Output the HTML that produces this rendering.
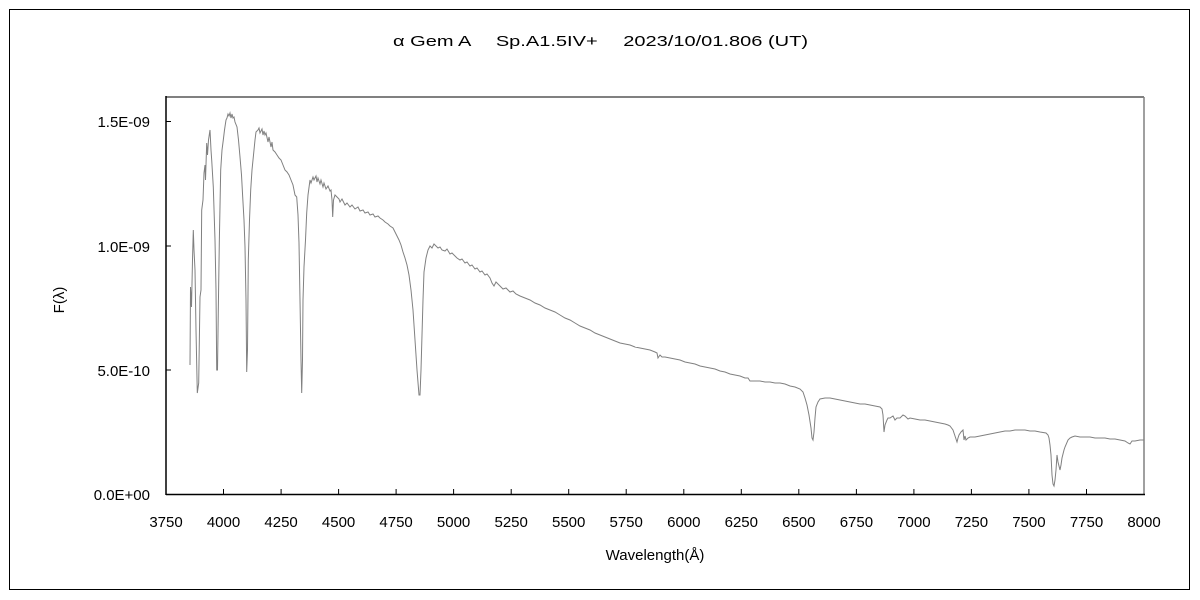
<!DOCTYPE html>
<html><head><meta charset="utf-8"><style>
html,body{margin:0;padding:0;background:#fff;}
svg{display:block;font-family:"Liberation Sans","Noto Sans CJK JP",sans-serif;}
</style></head><body>
<svg width="1200" height="600" viewBox="0 0 1200 600" xmlns="http://www.w3.org/2000/svg">
<rect x="9.5" y="9.5" width="1180" height="580" fill="none" stroke="#000" stroke-width="1"/>
<text x="393" y="46" font-size="15" textLength="415" lengthAdjust="spacingAndGlyphs">α Gem A　 Sp.A1.5IV+　 2023/10/01.806 (UT)</text>
<line x1="166" y1="97" x2="1144" y2="97" stroke="#808080" stroke-width="2"/>
<line x1="1144" y1="97" x2="1144" y2="495" stroke="#808080" stroke-width="1.5"/>
<line x1="166" y1="96" x2="166" y2="495" stroke="#000" stroke-width="1.5"/>
<line x1="166" y1="494.5" x2="1145" y2="494.5" stroke="#000" stroke-width="1.5"/>
<g stroke="#000" stroke-width="1">
<path d="M166 121.5h5M166 246h5M166 370h5"/>
<path d="M223.5 494v-5M281.1 494v-5M338.6 494v-5M396.1 494v-5M453.6 494v-5M511.2 494v-5M568.7 494v-5M626.2 494v-5M683.8 494v-5M741.3 494v-5M798.8 494v-5M856.4 494v-5M913.9 494v-5M971.4 494v-5M1028.9 494v-5M1086.5 494v-5"/>
</g>
<g font-size="15" fill="#000">
<text x="150" y="127" text-anchor="end">1.5E-09</text>
<text x="150" y="252" text-anchor="end">1.0E-09</text>
<text x="150" y="376" text-anchor="end">5.0E-10</text>
<text x="150" y="500" text-anchor="end">0.0E+00</text>
<g text-anchor="middle">
<text x="166" y="527">3750</text><text x="223.5" y="527">4000</text><text x="281.1" y="527">4250</text><text x="338.6" y="527">4500</text><text x="396.1" y="527">4750</text><text x="453.6" y="527">5000</text><text x="511.2" y="527">5250</text><text x="568.7" y="527">5500</text><text x="626.2" y="527">5750</text><text x="683.8" y="527">6000</text><text x="741.3" y="527">6250</text><text x="798.8" y="527">6500</text><text x="856.4" y="527">6750</text><text x="913.9" y="527">7000</text><text x="971.4" y="527">7250</text><text x="1028.9" y="527">7500</text><text x="1086.5" y="527">7750</text><text x="1144" y="527">8000</text>
</g>
</g>
<text x="0" y="0" font-size="15" transform="translate(64,300) rotate(-90)" text-anchor="middle">F(λ)</text>
<text x="655" y="560" font-size="15" text-anchor="middle">Wavelength(Å)</text>
<polyline fill="none" stroke="#808080" stroke-width="1" points="190,365 190.5,287 191.5,307 192.5,260 193.3,230 194,250 195,270 196,330 197.3,393 198.7,383 200,297 201,290 201.7,210 203,200 204,173 205,165 205.5,180 206.7,143 207.5,155 208.5,140 210,130 211,150 211.7,160 213.3,187 215,240 216,290 216.7,370 217.5,370 218.3,310 219.3,243 220.7,170 222,150 223.3,140 224.5,130 226,120 227,118 228,114 229,116 230,113 231,118 232,114 233,118 234,117 235,122 237,127 238.5,140 240,157 241.5,175 242.7,197 244,220 245,247 246,300 246.7,372 247.5,350 248.3,260 249.5,220 250.7,190 252,170 254,150 255,140 256,132 258,130 259,128 260,133 262,129 263,135 264,131 265,135 266,133 268,142 269,137 271,147 272,142 273,150 275,152 277,155 279,158 281,160 283,165 285,170 287,172 289,175 291,180 293,185 295,195 296.7,197 298,215 299,243 300,300 301,360 301.7,393 302.5,360 303,300 304,267 305.5,240 306.7,213 308,195 310,180 311,183 313,177 314,180 316,176 317,182 318,178 320,184 321,180 323,187 324,183 326,189 328,186 330,191 331,190 332,200 332.7,217 333.5,200 335,195 337,197 339,199 340,202 342,199 345,205 347,203 350,207 352,205 355,209 358,207 360,211 363,210 365,213 368,212 370,215 373,214 375,217 378,216 380,218 383,220 385,222 388,224 390,226 393,228 395,232 397,236 399,240 401,245 403,252 405,258 407,265 409,275 411,290 413,310 415,340 417,370 419,395 420,395 421,370 422,335 423,300 424,272 426,258 428,250 430,246 432,248 434,244 436,246 438,248 440,247 442,250 445,251 447,249 450,254 452,253 455,256 457,258 460,260 462,259 465,263 467,262 470,266 472,265 475,269 477,268 480,272 482,271 485,275 487,274 490,278 492,283 494,286 496,282 498,284 500,286 503,289 506,288 510,292 513,291 516,294 520,296 525,298 530,300 535,303 540,305 545,308 550,310 555,312 560,315 565,318 570,320 575,323 580,326 585,328 590,330 595,333 600,335 605,337 610,339 615,341 620,343 625,344 630,345 635,347 640,348 645,349 650,350 655,352 657,353 658,358 660,355 662,357 665,357 670,358 675,359 680,360 685,362 690,363 695,364 700,366 705,367 710,368 715,369 720,371 725,372 730,374 735,375 740,376 745,378 748,378 750,381 755,381 760,381 765,382 770,382 775,383 780,383 785,384 790,386 795,387 800,389 803,392 805,398 807,405 809,415 811,428 812,438 813,440 814,432 815,418 816,407 818,402 820,399 825,398 830,398 835,399 840,400 845,401 850,402 855,403 860,404 865,404 870,405 875,406 880,407 882,409 883,415 884,432 885,425 887,420 888,418 890,418 893,416 895,420 897,418 900,418 903,415 905,416 908,419 910,418 915,419 920,420 925,420 930,421 935,422 940,423 945,424 948,425 950,426 953,430 955,436 957,442 958,438 959,435 961,432 963,430 964,440 965,436 966,440 968,438 970,437 975,437 980,436 985,435 990,434 995,433 1000,432 1005,431 1010,431 1015,430 1020,430 1025,430 1030,431 1035,431 1040,432 1046,433 1048,435 1049,438 1050,445 1051,455 1052,475 1053,484 1054,486 1055,480 1056,470 1057,455 1058,462 1060,470 1061,465 1062,458 1064,450 1065,447 1068,440 1070,438 1072,437 1075,436 1080,437 1085,437 1090,437 1095,438 1100,438 1105,438 1110,439 1115,439 1120,440 1125,441 1128,443 1130,444 1132,441 1135,441 1140,440 1144,440"/>
</svg>
</body></html>
